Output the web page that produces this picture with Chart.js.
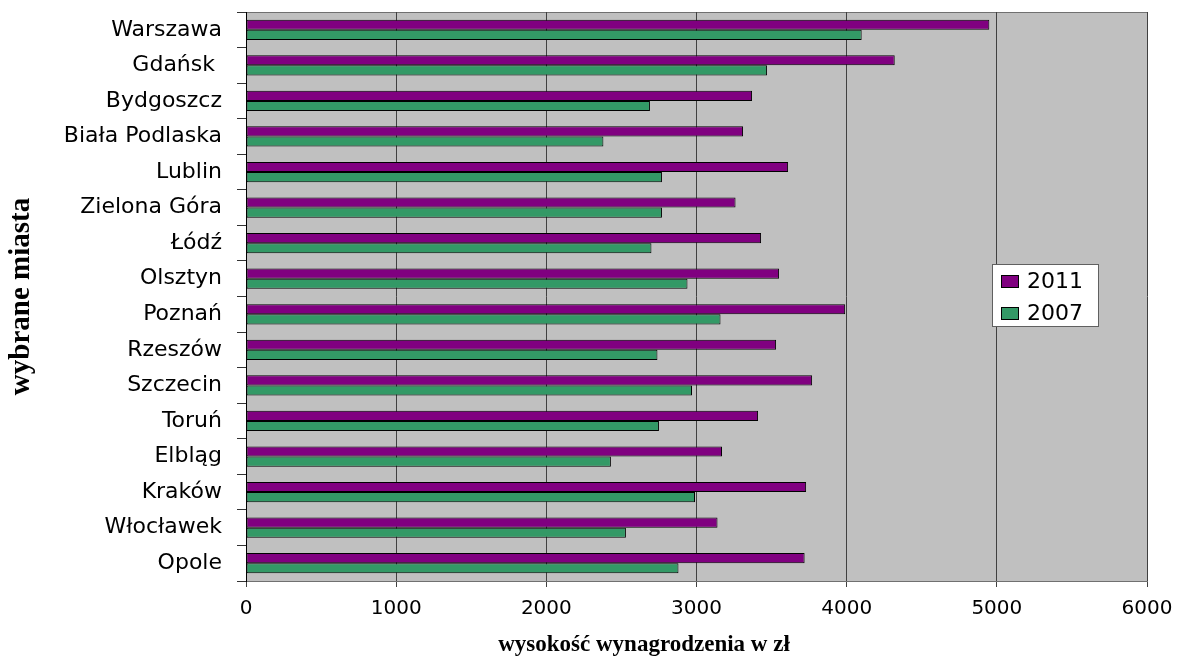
<!DOCTYPE html>
<html>
<head>
<meta charset="utf-8">
<script src="https://cdn.jsdelivr.net/npm/chart.js@4"></script>
<style>
  html, body { margin: 0; padding: 0; background: #fff; }
  #wrap { width: 1181px; height: 659px; }
</style>
</head>
<body>
<div id="wrap"><canvas id="wynagrodzenia"></canvas></div>
<script>
// DANE - miasta od gory do dolu
const miasta = [
  "Warszawa",
  "Gdańsk ",
  "Bydgoszcz",
  "Biała Podlaska",
  "Lublin",
  "Zielona Góra",
  "Łódź",
  "Olsztyn",
  "Poznań",
  "Rzeszów",
  "Szczecin",
  "Toruń",
  "Elbląg",
  "Kraków",
  "Włocławek",
  "Opole",
];
const lata = ["2011", "2007"];
const placa2011 = [4950, 4320, 3370, 3310, 3610, 3260, 3430, 3550, 3990, 3530, 3770, 3410, 3170, 3730, 3140, 3720];
const placa2007 = [4100, 3470, 2690, 2380, 2770, 2770, 2700, 2940, 3160, 2740, 2970, 2750, 2430, 2990, 2530, 2880];
const osX = [0, 1000, 2000, 3000, 4000, 5000, 6000];
const tytulX = "wysokość wynagrodzenia w zł";
const tytulY = "wybrane miasta";

// TLO OBSZARU WYKRESU (szare)
const tlo = {
  id: "tlo",
  beforeDraw(chart) {
    const { ctx, chartArea: a } = chart;
    ctx.save();
    ctx.fillStyle = "#fff";
    ctx.fillRect(0, 0, chart.width, chart.height);
    ctx.fillStyle = "#c0c0c0";
    ctx.fillRect(a.left, a.top, a.right - a.left, a.bottom - a.top);
    ctx.strokeStyle = "#707070";
    ctx.lineWidth = 1;
    ctx.beginPath();
    ctx.moveTo(a.left, a.top + 0.5);
    ctx.lineTo(a.right, a.top + 0.5);
    ctx.stroke();
    ctx.restore();
  },
};

// LEGENDA W RAMCE + TYTUL OSI X
const legenda = {
  id: "legenda",
  afterDraw(chart) {
    const ctx = chart.ctx;
    ctx.save();
    ctx.fillStyle = "#fff";
    ctx.fillRect(992, 264, 106, 62);
    ctx.strokeStyle = "#606060";
    ctx.lineWidth = 1;
    ctx.strokeRect(992.5, 264.5, 106, 62);
    chart.data.datasets.forEach((ds, i) => {
      const y = 281 + i * 32;
      ctx.fillStyle = ds.backgroundColor;
      ctx.fillRect(1001, y - 6, 17, 12);
      ctx.strokeStyle = "#000";
      ctx.strokeRect(1001.5, y - 5.5, 17, 12);
      ctx.fillStyle = "#000";
      ctx.font = "22px 'DejaVu Sans'";
      ctx.textBaseline = "middle";
      ctx.fillText(ds.label, 1027, y + 1);
    });
    // tytul osi X (przesuniety w lewo jak w oryginale)
    ctx.font = "bold 23px 'Liberation Serif'";
    ctx.textAlign = "center";
    ctx.textBaseline = "middle";
    ctx.fillStyle = "#000";
    ctx.fillText(tytulX, 644, 645);
    ctx.restore();
  },
};

const ctx = document.getElementById("wynagrodzenia").getContext("2d");
new Chart(ctx, {
  type: "bar",
  data: {
    labels: miasta,
    datasets: [
      {
        label: lata[0],
        data: placa2011,
        backgroundColor: "#800080",
        borderColor: "#000",
        borderWidth: 1,
        borderSkipped: false,
        inflateAmount: 0,
        categoryPercentage: 0.57,
        barPercentage: 1,
      },
      {
        label: lata[1],
        data: placa2007,
        backgroundColor: "#339966",
        borderColor: "#000",
        borderWidth: 1,
        borderSkipped: false,
        inflateAmount: 0,
        categoryPercentage: 0.57,
        barPercentage: 1,
      },
    ],
  },
  options: {
    indexAxis: "y",
    responsive: true,
    maintainAspectRatio: false,
    animation: false,
    layout: { padding: { top: 12, right: 34, left: 0, bottom: 0 } },
    plugins: {
      legend: { display: false },
      tooltip: { enabled: false },
    },
    scales: {
      x: {
        min: 0,
        max: 6000,
        afterBuildTicks: (s) => {
          s.ticks = osX.map((v) => ({ value: v }));
        },
        afterFit: (s) => {
          s.height = 78;
          s.paddingLeft = 0;
          s.paddingRight = 0;
        },
        grid: { color: "#404040", tickLength: 6 },
        border: { color: "#707070" },
        ticks: {
          color: "#000",
          font: { family: "DejaVu Sans", size: 20 },
          padding: 10,
          maxRotation: 0,
          callback: (v) => String(v),
        },
      },
      y: {
        afterFit: (s) => {
          s.width = 246;
          s.paddingTop = 0;
          s.paddingBottom = 0;
        },
        grid: { drawOnChartArea: false, tickLength: 9, color: "#333" },
        border: { color: "#000" },
        ticks: {
          color: "#000",
          font: { family: "DejaVu Sans", size: 22 },
          padding: 15,
          autoSkip: false,
        },
        title: {
          display: true,
          text: tytulY,
          color: "#000",
          font: { family: "Liberation Serif", size: 29, weight: "bold" },
          padding: { top: 4, bottom: 0 },
        },
      },
    },
  },
  plugins: [tlo, legenda],
});
</script>
</body>
</html>
